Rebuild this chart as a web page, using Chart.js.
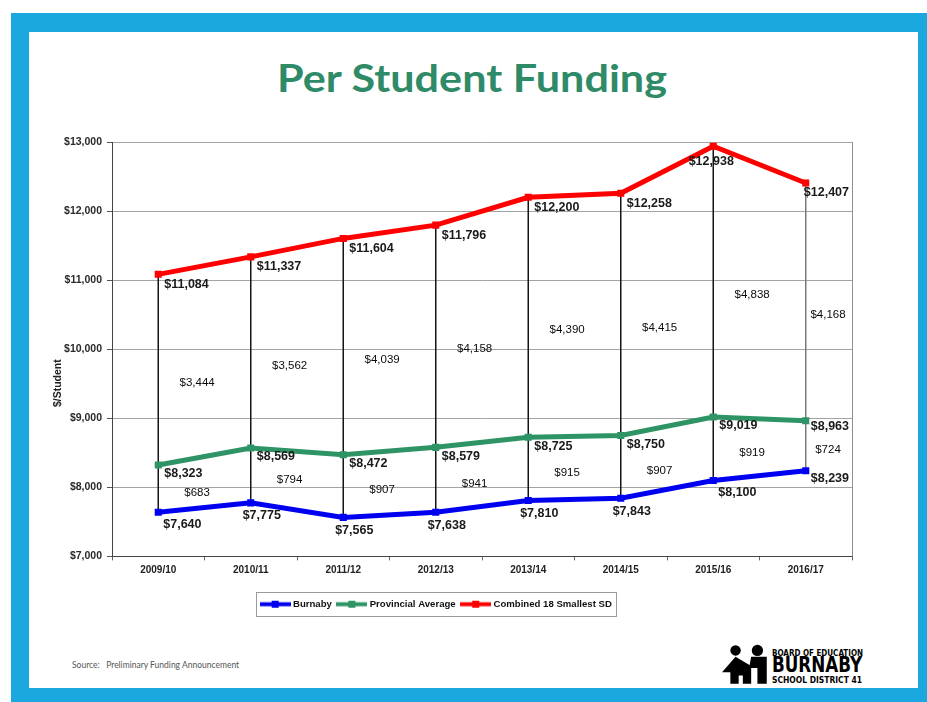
<!DOCTYPE html>
<html><head><meta charset="utf-8">
<script src="https://cdn.jsdelivr.net/npm/chart.js@4"></script>
<style>
html,body{margin:0;padding:0;width:927px;height:702px;overflow:hidden;background:#fff;}
#frame{position:absolute;left:11px;top:13px;width:916px;height:689px;background:#1ba8df;}
#slide{position:absolute;left:29px;top:32px;width:889px;height:656px;background:#fff;}
#title{position:absolute;top:58px;left:472px;white-space:nowrap;font-family:Lato,"Open Sans",sans-serif;font-weight:bold;font-size:38px;line-height:38px;color:#2f8a68;transform-origin:0 0;}
#chartwrap{position:absolute;left:0;top:120px;width:857px;height:510px;}
#source{position:absolute;left:72px;top:659px;font-family:Lato,"Open Sans",sans-serif;font-size:8.5px;line-height:12px;color:#555;white-space:nowrap;}
.logo{position:absolute;left:772px;font-family:"DejaVu Sans Condensed","DejaVu Sans",sans-serif;font-weight:bold;color:#000;white-space:nowrap;transform-origin:0 0;}
</style></head>
<body>
<div id="frame"></div>
<div id="slide"></div>
<div id="title">Per Student Funding</div>
<div id="chartwrap"><canvas id="c" width="857" height="510"></canvas></div>
<div id="source">Source:&nbsp;&nbsp; Preliminary Funding Announcement</div>
<svg style="position:absolute;left:721px;top:643px" width="52" height="44" viewBox="0 0 50 42">
  <circle cx="14" cy="7" r="5" fill="#000"/>
  <circle cx="35" cy="7" r="5.4" fill="#000"/>
  <polygon fill="#000" points="14,13 29,22 29,39 21,39 21,31 17,31 17,39 9,39 9,28 1,28"/>
  <polygon fill="#000" points="29,13 44,13 44,39 35,39 35,24 27,24"/>
</svg>
<div class="logo" id="l1" style="top:649px;font-size:9px;line-height:9px;">BOARD OF EDUCATION</div>
<div class="logo" id="l2" style="top:655px;font-size:20.5px;line-height:20.5px;">BURNABY</div>
<div class="logo" id="l3" style="top:675.5px;font-size:9px;line-height:9px;">SCHOOL DISTRICT 41</div>
<script>
// ---- data ----
const categories = ['2009/10','2010/11','2011/12','2012/13','2013/14','2014/15','2015/16','2016/17'];
const burnaby    = [7640, 7775, 7565, 7638, 7810, 7843, 8100, 8239];
const provincial = [8323, 8569, 8472, 8579, 8725, 8750, 9019, 8963];
const combined   = [11084, 11337, 11604, 11796, 12200, 12258, 12938, 12407];
const seriesNames = ['Burnaby', 'Provincial Average', 'Combined 18 Smallest SD'];
const yMin = 7000, yMax = 13000, yStep = 1000;
const axisTitle = '$/Student';

const BLUE = '#0000f0', GREEN = '#2e9466', RED = '#ff0000';
const F = '"Liberation Sans", Arial, sans-serif';

function fmt(v){ return '$' + String(Math.round(v)).replace(/\B(?=(\d{3})+(?!\d))/g, ','); }

function fitWidth(el, w, centerX){
  const r = el.getBoundingClientRect();
  const s = w / r.width;
  if (centerX !== undefined){
    el.style.left = (centerX - w/2) + 'px';
  }
  el.style.transform = 'scaleX(' + s + ')';
}
fitWidth(document.getElementById('title'), 390, 472);
fitWidth(document.getElementById('l1'), 91);
fitWidth(document.getElementById('l2'), 90);
fitWidth(document.getElementById('l3'), 90);

function legendMark(color){
  const c = document.createElement('canvas');
  c.width = 31; c.height = 9;
  const g = c.getContext('2d');
  g.fillStyle = color;
  g.fillRect(0, 2.5, 31, 4);
  g.fillRect(12, 1, 7, 7);
  return c;
}
const marks = [legendMark(BLUE), legendMark(GREEN), legendMark(RED)];

function labelSpot(s, i, n){
  if (i === n - 1) return {align:'right', dy:[8, 6, 10][s]};
  if (s === 2 && i === 6) return {align:'center', dx:-2, dy:15};
  if (s === 0 && i >= 1 && i <= 5) return {align:'center', dx:11, dy:13};
  if (s === 0) return {align:'left', dx:5, dy:12};
  if (s === 1) return {align:'left', dx:6, dy:9};
  return {align:'left', dx:6, dy:10};
}

const decor = {
  id:'decor',
  beforeDatasetsDraw(chart){
    const ctx = chart.ctx, ca = chart.chartArea;
    const top = chart.getDatasetMeta(2).data, bot = chart.getDatasetMeta(0).data;
    ctx.save();
    ctx.strokeStyle = '#8f8f8f'; ctx.lineWidth = 1;
    ctx.beginPath(); ctx.moveTo(Math.round(ca.right)+0.5, ca.top); ctx.lineTo(Math.round(ca.right)+0.5, ca.bottom); ctx.stroke();
    for (let i = 0; i < top.length; i++){
      ctx.strokeStyle = i === top.length - 1 ? '#7a7a7a' : '#151515';
      ctx.lineWidth = 1.5;
      ctx.beginPath();
      ctx.moveTo(top[i].x, top[i].y);
      ctx.lineTo(bot[i].x, bot[i].y);
      ctx.stroke();
    }
    ctx.restore();
  },
  afterDatasetsDraw(chart){
    const ctx = chart.ctx, ca = chart.chartArea;
    const xs = chart.scales.x, ys = chart.scales.y;
    ctx.save();
    ctx.fillStyle = '#1a1a1a';
    ctx.textBaseline = 'middle';
    [burnaby, provincial, combined].forEach((arr, s) => {
      const pts = chart.getDatasetMeta(s).data;
      ctx.font = 'bold 12.5px ' + F;
      arr.forEach((v, i) => {
        const sp = labelSpot(s, i, arr.length);
        ctx.textAlign = sp.align;
        const x = sp.align === 'right' ? ca.right - 3 : pts[i].x + sp.dx;
        ctx.fillText(fmt(v), x, pts[i].y + sp.dy);
      });
    });
    ctx.font = '11.5px ' + F;
    ctx.fillStyle = '#0a0a0a';
    ctx.textAlign = 'center';
    const cw = xs.getPixelForValue(1) - xs.getPixelForValue(0);
    categories.forEach((c, i) => {
      let x = xs.getPixelForValue(i) + 0.42 * cw;
      x = Math.min(x, ca.right - 24);
      const yTop = ys.getPixelForValue((combined[i] + provincial[i]) / 2) + 13;
      const yLow = ys.getPixelForValue((provincial[i] + burnaby[i]) / 2) + 4;
      ctx.fillText(fmt(combined[i] - burnaby[i]), x, yTop);
      ctx.fillText(fmt(provincial[i] - burnaby[i]), x, yLow);
    });
    ctx.restore();
  },
  afterDraw(chart){
    const ctx = chart.ctx, ca = chart.chartArea;
    ctx.save();
    ctx.translate(58, (ca.top + ca.bottom) / 2 + 34);
    ctx.rotate(-Math.PI / 2);
    ctx.font = 'bold 10.5px ' + F;
    ctx.fillStyle = '#222';
    ctx.textAlign = 'center'; ctx.textBaseline = 'middle';
    ctx.fillText(axisTitle, 0, 0);
    ctx.restore();
    const hb = chart.legend.legendHitBoxes;
    if (hb && hb.length){
      let l = Infinity, r = -Infinity, t = Infinity, b = -Infinity;
      hb.forEach(h => { l = Math.min(l, h.left); r = Math.max(r, h.left + h.width); t = Math.min(t, h.top); b = Math.max(b, h.top + h.height); });
      const cy = (t + b) / 2;
      ctx.save();
      ctx.strokeStyle = '#9a9a9a'; ctx.lineWidth = 1;
      ctx.strokeRect(Math.round(l - 6) + 0.5, Math.round(cy - 12) + 0.5, Math.round(r - l + 10), 24);
      ctx.restore();
    }
  }
};

const lineDs = (label, data, color) => ({
  label, data,
  borderColor: color, backgroundColor: color,
  borderWidth: 5, tension: 0,
  pointStyle: 'rect', pointRadius: 5, pointBackgroundColor: color, pointBorderColor: color, pointBorderWidth: 0,
});

new Chart(document.getElementById('c'), {
  type: 'line',
  data: {
    labels: categories,
    datasets: [
      lineDs(seriesNames[0], burnaby, BLUE),
      lineDs(seriesNames[1], provincial, GREEN),
      lineDs(seriesNames[2], combined, RED),
    ]
  },
  options: {
    responsive: false, animation: false, devicePixelRatio: 1,
    layout: { padding: { left: 21, right: 4, top: 22, bottom: 11 } },
    scales: {
      x: {
        offset: true,
        grid: { display: true, drawOnChartArea: false, drawTicks: true, tickLength: 4, offset: true, color: '#666' },
        border: { color: '#444', width: 1 },
        ticks: { font: { family: F, size: 10, weight: 'bold' }, color: '#222', padding: 4, maxRotation: 0, autoSkip: false },
        afterFit(s){ s.height = 36; }
      },
      y: {
        min: yMin, max: yMax,
        ticks: { stepSize: yStep, callback: v => fmt(v), font: { family: F, size: 10.5, weight: 'bold' }, color: '#2a2a2a', padding: 5 },
        grid: { color: '#a3a3a3', tickColor: '#555', tickLength: 5, lineWidth: 1 },
        border: { color: '#444', width: 1 },
        afterFit(s){ s.width = 91; }
      }
    },
    plugins: {
      legend: {
        position: 'bottom',
        labels: {
          usePointStyle: true, pointStyleWidth: 26, padding: 7,
          font: { family: F, size: 9.6, weight: 'bold' }, color: '#111',
          generateLabels(chart){
            const items = Chart.defaults.plugins.legend.labels.generateLabels(chart);
            items.forEach((it, k) => { it.pointStyle = marks[k]; });
            return items;
          }
        }
      },
      tooltip: { enabled: false }
    }
  },
  plugins: [decor]
});
</script>
</body></html>
